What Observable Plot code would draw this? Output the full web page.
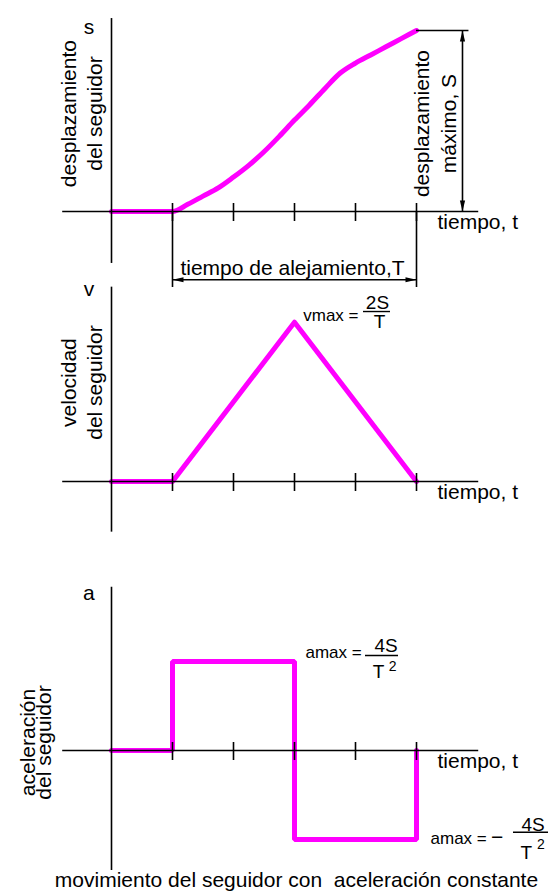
<!DOCTYPE html>
<html>
<head>
<meta charset="utf-8">
<script src="https://cdn.jsdelivr.net/npm/d3@7"></script>
<script src="https://cdn.jsdelivr.net/npm/@observablehq/plot@0.6"></script>
<style>
  html, body { margin: 0; padding: 0; background: #fff; }
  #chart { position: relative; width: 549px; height: 891px; overflow: hidden;
           font-family: "Liberation Sans", Arial, Helvetica, sans-serif; color: #000; }
  #chart svg { position: absolute; left: 0; top: 0; overflow: visible; }
  #caption { position: absolute; left: 22px; top: 869px; width: 549px; text-align: center;
             font-size: 21px; line-height: 21px; white-space: pre; }
</style>
</head>
<body>
<div id="chart">
  <div id="caption">movimiento del seguidor con  aceleración constante</div>
</div>
<script>
// Time axis: tick marks at equal steps; the rise starts at t = 1 and ends at t = 5
const tickTimes = [1, 2, 3, 4, 5];

// Follower displacement, as a fraction of the maximum displacement S
const dispTime  = [0, 1, 1.25, 1.5, 1.75, 2, 2.25, 2.5, 2.75, 3, 3.25, 3.5, 3.75, 4, 4.25, 4.5, 4.75, 5];
const dispValue = [0, 0, 0.04, 0.085, 0.13, 0.19, 0.255, 0.33, 0.415, 0.505, 0.59, 0.68, 0.765, 0.82, 0.865, 0.91, 0.955, 1];

// Follower velocity, as a fraction of vmax
const velTime  = [0, 1, 3, 5];
const velValue = [0, 0, 1, 0];

// Follower acceleration, as a fraction of amax (step changes at t = 1, 3, 5)
const accTime  = [0, 1, 1, 3, 3, 5, 5];
const accValue = [0, 0, 1, 1, -1, -1, 0];

const disp = dispTime.map((t, i) => ({t, s: dispValue[i]}));
const vel  = velTime.map((t, i) => ({t, v: velValue[i]}));
const acc  = accTime.map((t, i) => ({t, a: accValue[i]}));

const MAGENTA = "#ff00ff";
const INK = "#000";
const FONT = "'Liberation Sans', Arial, Helvetica, sans-serif";

// small filled arrowhead, tip at the origin, pointing up
const arrowHead = {
  draw(ctx) {
    ctx.moveTo(0, 0);
    ctx.lineTo(2.6, 11);
    ctx.lineTo(-2.6, 11);
    ctx.closePath();
  }
};

const xScale = {domain: [0, 5], range: [111, 416], axis: null};

// shared axis cross: horizontal time axis, vertical axis, ticks and the "tiempo, t" label
function axisMarks(yBottom, yTop) {
  return [
    Plot.ruleY([0], {x1: -0.8, x2: 6.02, stroke: INK, strokeWidth: 1.6}),
    Plot.ruleX([0], {y1: yBottom, y2: yTop, stroke: INK, strokeWidth: 1.6}),
    Plot.ruleX(tickTimes, {x: d => d, y1: 0, y2: 0, insetTop: -8, insetBottom: -10, stroke: INK, strokeWidth: 1.6}),
    Plot.text(["tiempo, t"], {text: d => d, x: 5.344, y: 0, dy: 11, textAnchor: "start", lineAnchor: "middle", fontSize: 21, fill: INK})
  ];
}

function panel(yScale, marks) {
  const svg = Plot.plot({
    width: 549,
    height: 891,
    x: xScale,
    y: {...yScale, axis: null},
    style: {fontFamily: FONT, fontSize: "21px", background: "transparent", color: INK},
    marks
  });
  document.getElementById("chart").appendChild(svg);
}

// ---- displacement ----
panel({domain: [0, 1], range: [211, 30]}, [
  Plot.line(disp, {x: "t", y: "s", stroke: MAGENTA, strokeWidth: 5, curve: "monotone-x"}),
  ...axisMarks(-0.287, 1.066),
  // extension lines and dimension of the rise time T
  Plot.ruleX([1, 5], {x: d => d, y1: -0.42, y2: 0, stroke: INK, strokeWidth: 1.6}),
  Plot.ruleY([-0.377], {x1: 1, x2: 5, stroke: INK, strokeWidth: 1.6}),
  Plot.dot([{t: 1, r: -90}, {t: 5, r: 90}], {x: "t", y: -0.377, rotate: "r", symbol: arrowHead, fill: INK, stroke: "none"}),
  Plot.text(["tiempo de alejamiento,T"], {text: d => d, x: 2.967, y: -0.311, lineAnchor: "middle", fontSize: 21, fill: INK}),
  // extension line and dimension of the maximum displacement S
  Plot.ruleY([1], {x1: 5, x2: 5.86, stroke: INK, strokeWidth: 1.6}),
  Plot.ruleX([5.754], {x: d => d, y1: 0, y2: 1, stroke: INK, strokeWidth: 1.6}),
  Plot.dot([{s: 1, r: 0}, {s: 0, r: 180}], {x: 5.754, y: "s", rotate: "r", symbol: arrowHead, fill: INK, stroke: "none"}),
  Plot.text(["desplazamiento\nmáximo, S"], {text: d => d, x: 5.287, y: 0.486, rotate: -90, lineHeight: 1.29, lineAnchor: "middle", fontSize: 21, fill: INK}),
  // axis titles
  Plot.text(["s"], {text: d => d, x: -0.37, y: 1.017, lineAnchor: "middle", fontSize: 21, fill: INK}),
  Plot.text(["desplazamiento\ndel seguidor"], {text: d => d, x: -0.5, y: 0.541, rotate: -90, lineHeight: 1.24, lineAnchor: "middle", fontSize: 21, fill: INK})
]);

// ---- velocity ----
panel({domain: [0, 1], range: [481, 321.7]}, [
  Plot.line(vel, {x: "t", y: "v", stroke: MAGENTA, strokeWidth: 5}),
  ...axisMarks(-0.318, 1.22),
  Plot.text(["v"], {text: d => d, x: -0.37, y: 1.205, lineAnchor: "middle", fontSize: 21, fill: INK}),
  Plot.text(["velocidad\ndel seguidor"], {text: d => d, x: -0.5, y: 0.621, rotate: -90, lineHeight: 1.24, lineAnchor: "middle", fontSize: 21, fill: INK}),
  // vmax = 2S / T
  Plot.text(["vmax ="], {text: d => d, x: 3.143, y: 1.039, textAnchor: "start", lineAnchor: "middle", fontSize: 17, fill: INK}),
  Plot.text(["2S"], {text: d => d, x: 4.36, y: 1.121, lineAnchor: "middle", fontSize: 19, fill: INK}),
  Plot.ruleY([1.067], {x1: 4.131, x2: 4.574, stroke: INK, strokeWidth: 1.4}),
  Plot.text(["T"], {text: d => d, x: 4.393, y: 1.001, lineAnchor: "middle", fontSize: 19, fill: INK})
]);

// ---- acceleration ----
panel({domain: [-1, 1], range: [839, 661]}, [
  Plot.line(acc, {x: "t", y: "a", stroke: MAGENTA, strokeWidth: 5, strokeLinejoin: "miter"}),
  ...axisMarks(-1.348, 1.835),
  Plot.text(["a"], {text: d => d, x: -0.37, y: 1.764, lineAnchor: "middle", fontSize: 21, fill: INK}),
  Plot.text(["aceleración\ndel seguidor"], {text: d => d, x: -1.209, y: 0.09, rotate: -90, lineHeight: 0.79, lineAnchor: "middle", fontSize: 21, fill: INK}),
  // amax = 4S / T^2
  Plot.text(["amax ="], {text: d => d, x: 3.18, y: 1.101, textAnchor: "start", lineAnchor: "middle", fontSize: 17, fill: INK}),
  Plot.text(["4S"], {text: d => d, x: 4.5, y: 1.18, lineAnchor: "middle", fontSize: 19, fill: INK}),
  Plot.ruleY([1.067], {x1: 4.164, x2: 4.705, stroke: INK, strokeWidth: 1.4}),
  Plot.text(["T"], {text: d => d, x: 4.377, y: 0.888, lineAnchor: "middle", fontSize: 19, fill: INK}),
  Plot.text(["2"], {text: d => d, x: 4.61, y: 0.944, lineAnchor: "middle", fontSize: 14, fill: INK}),
  // amax = -4S / T^2
  Plot.text(["amax ="], {text: d => d, x: 5.23, y: -0.989, textAnchor: "start", lineAnchor: "middle", fontSize: 17, fill: INK}),
  Plot.text(["\u2212"], {text: d => d, x: 6.32, y: -0.97, lineAnchor: "middle", fontSize: 21, fill: INK}),
  Plot.text(["4S"], {text: d => d, x: 6.91, y: -0.831, lineAnchor: "middle", fontSize: 19, fill: INK}),
  Plot.ruleY([-0.918], {x1: 6.59, x2: 7.164, stroke: INK, strokeWidth: 1.4}),
  Plot.text(["T"], {text: d => d, x: 6.8, y: -1.146, lineAnchor: "middle", fontSize: 19, fill: INK}),
  Plot.text(["2"], {text: d => d, x: 7.04, y: -1.06, lineAnchor: "middle", fontSize: 14, fill: INK})
]);
</script>
</body>
</html>
